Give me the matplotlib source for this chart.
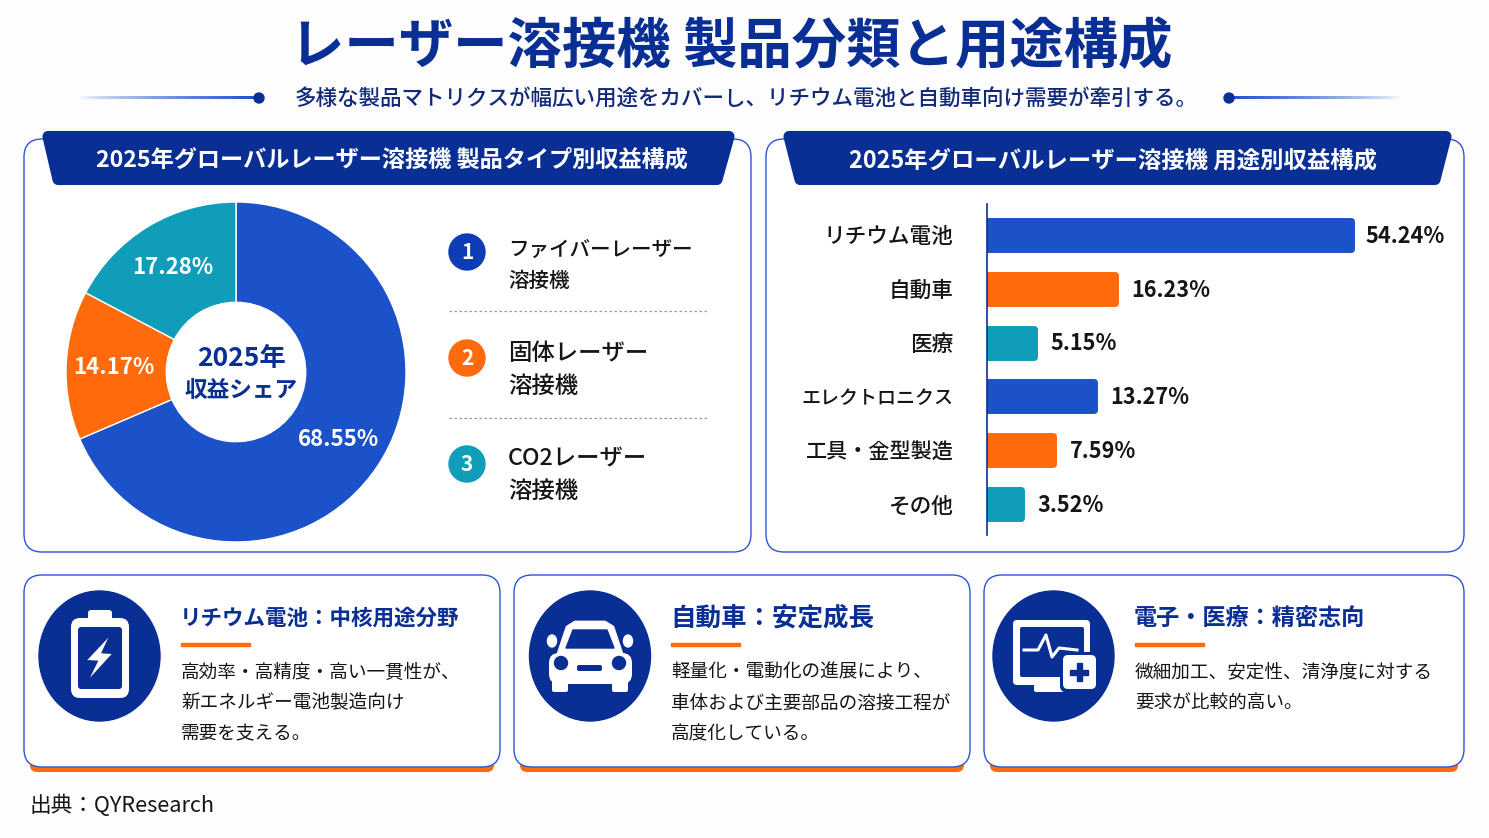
import numpy as np
import matplotlib
matplotlib.use('Agg')
import matplotlib.pyplot as plt
from matplotlib.colors import to_rgb
from matplotlib.patches import FancyBboxPatch, Circle, Polygon, Ellipse, Rectangle

plt.rcParams['font.family'] = ['Noto Sans CJK JP', 'DejaVu Sans']

title = 'レーザー溶接機 製品分類と用途構成'
subtitle = '多様な製品マトリクスが幅広い用途をカバーし、リチウム電池と自動車向け需要が牽引する。'
source = '出典：QYResearch'

# product type donut
pie_title = '2025年グローバルレーザー溶接機 製品タイプ別収益構成'
pie_names = ['ファイバーレーザー\n溶接機', '固体レーザー\n溶接機', 'CO2レーザー\n溶接機']
pie_values = [68.55, 14.17, 17.28]
pie_center = ['2025年', '収益シェア']

# application bars
bar_title = '2025年グローバルレーザー溶接機 用途別収益構成'
bar_names = ['リチウム電池', '自動車', '医療', 'エレクトロニクス', '工具・金型製造', 'その他']
bar_values = [54.24, 16.23, 5.15, 13.27, 7.59, 3.52]

card_titles = ['リチウム電池：中核用途分野', '自動車：安定成長', '電子・医療：精密志向']
card_lines = [
    ['高効率・高精度・高い一貫性が、', '新エネルギー電池製造向け', '需要を支える。'],
    ['軽量化・電動化の進展により、', '車体および主要部品の溶接工程が', '高度化している。'],
    ['微細加工、安定性、清浄度に対する', '要求が比較的高い。'],
]

NAVY = '#0A2F94'
BLUE = '#1B52C9'
ORANGE = '#FF6A0D'
TEAL = '#0F9DB9'
EDGE = '#2B55D8'
INK = '#151515'
W, H = 1489, 838


def axes_px(x0, y0, x1, y1):
    return fig.add_axes([x0 / W, 1 - y1 / H, (x1 - x0) / W, (y1 - y0) / H])


def rbox(x0, y0, x1, y1, r, **kw):
    p = FancyBboxPatch((x0, y0), x1 - x0, y1 - y0, boxstyle=f'round,pad=0,rounding_size={r}', **kw)
    bg.add_patch(p)
    return p


fig = plt.figure(figsize=(W / 100, H / 100), dpi=100, facecolor='#FDFDFE')

# everything that is not data goes on a pixel canvas
bg = fig.add_axes([0, 0, 1, 1])
bg.axis('off')

bg.text(731, 47, title, fontsize=39.2, fontweight='bold', color=NAVY, ha='center', va='center')
bg.text(746, 100, subtitle, fontsize=15.5, fontweight='medium', color='#12297A', ha='center', va='center')

# fading rules either side of the subtitle
fade = np.zeros((1, 256, 4))
fade[0, :, :3] = to_rgb(BLUE)
fade[0, :, 3] = np.linspace(0, 1, 256) ** 0.7
bg.imshow(fade, extent=(80, 258, 96.5, 99.5), aspect='auto', interpolation='bilinear')
bg.imshow(fade[:, ::-1], extent=(1229, 1400, 96.5, 99.5), aspect='auto', interpolation='bilinear')
bg.set_xlim(0, W)
bg.set_ylim(H, 0)
bg.add_patch(Circle((259, 98), 5, color=NAVY))
bg.add_patch(Circle((1229, 98), 5, color=NAVY))

# top panels
rbox(24, 139, 751, 552, 18, fc='white', ec=EDGE, lw=1)
rbox(766, 139, 1464, 552, 18, fc='white', ec=EDGE, lw=1)
bg.add_patch(Polygon([(48, 136.5), (729, 136.5), (717, 179.5), (58, 179.5)], fc=NAVY, ec=NAVY, lw=8, joinstyle='round'))
bg.add_patch(Polygon([(789, 136.5), (1446, 136.5), (1435, 179.5), (800, 179.5)], fc=NAVY, ec=NAVY, lw=8, joinstyle='round'))
bg.text(392, 160, pie_title, fontsize=16.7, fontweight='bold', color='white', ha='center', va='center')
bg.text(1113, 161, bar_title, fontsize=16.8, fontweight='bold', color='white', ha='center', va='center')

# donut
ax1 = axes_px(66, 202, 406, 542)
wedges, _, pct = ax1.pie(pie_values, colors=[BLUE, ORANGE, TEAL], startangle=90, counterclock=False, radius=1,
                         autopct='%.2f%%', pctdistance=0.72,
                         wedgeprops=dict(width=0.59, edgecolor='white', linewidth=1),
                         textprops=dict(color='white', fontsize=16, fontweight='bold'))
ax1.set_xlim(-1, 1)
ax1.set_ylim(-1, 1)
ax1.text(0.03, 0.08, pie_center[0], fontsize=19, fontweight='bold', color=NAVY, ha='center', va='center')
ax1.text(0.03, -0.11, pie_center[1], fontsize=16.3, fontweight='bold', color=NAVY, ha='center', va='center')

# donut key
key_colors = ['#0D3CB5', ORANGE, TEAL]
key_y = [265.5, 369.5, 475]
key_circle_y = [252, 358, 464]
key_sizes = [14.8, 16.8, 16.8]
for i in range(3):
    bg.add_patch(Circle((467, key_circle_y[i]), 18, color=key_colors[i]))
    bg.text(467, key_circle_y[i], str(i + 1), fontsize=15, fontweight='bold', color='white', ha='center', va='center')
    bg.text(508, key_y[i], pie_names[i], fontsize=key_sizes[i], fontweight='medium', color=INK, ha='left', va='center', linespacing=1.55)
for y in [311, 418]:
    bg.plot([449, 708], [y, y], color='#9A9A9A', lw=0.9, ls=(0, (2, 2)))

# bars, lengths in the reference follow a compressed scale so the axis is a power scale
ax2 = axes_px(987, 204, 1460, 535)
ax2.set_xscale('function', functions=(lambda v: np.power(np.maximum(v, 0), 0.87),
                                      lambda v: np.power(np.maximum(v, 0), 1 / 0.87)))
bar_pos = np.arange(len(bar_values))
bar_colors = [BLUE, ORANGE, TEAL, BLUE, ORANGE, TEAL]
bars = ax2.barh(bar_pos, bar_values, height=0.52, color=bar_colors, edgecolor=bar_colors, lw=5)
for b in bars:
    b.set_joinstyle('round')
ax2.set_xlim(0, 73.2)
ax2.set_ylim(5.576, -0.576)
ax2.set_yticks(bar_pos, bar_names, fontsize=15.6, fontweight='medium', color=INK)
ax2.set_xticks([])
ax2.minorticks_off()
ax2.tick_params(axis='y', length=0, pad=24)
ax2.tick_params(axis='x', which='both', length=0, labelbottom=False)
ax2.get_yticklabels()[3].set_fontsize(13.7)
ax2.get_yticklabels()[4].set_fontsize(15.2)
for s in ['top', 'right', 'bottom']:
    ax2.spines[s].set_visible(False)
ax2.spines['left'].set_color(NAVY)
ax2.spines['left'].set_linewidth(1.2)
ax2.patch.set_alpha(0)
for p, v in zip(bar_pos, bar_values):
    ax2.annotate(f'{v:.2f}%', (v, p), xytext=(12 if v < 50 else 10, -1), textcoords='offset points', fontsize=15.6,
                 fontweight='bold', color=INK, ha='left', va='center')

# bottom cards
card_x = [(24, 500), (514, 970), (984, 1464)]
circle_x = [99.5, 590, 1053.5]
text_x = [181, 671, 1135]
title_sizes = [15.5, 18.4, 16.7]
for i in range(3):
    x0, x1 = card_x[i]
    rbox(x0 + 6, 740, x1 - 6, 772, 7, fc=ORANGE, ec='none')
    rbox(x0, 575, x1, 767, 18, fc='white', ec=EDGE, lw=1)
    bg.add_patch(Ellipse((circle_x[i], 656), 121, 130, color=NAVY))
    bg.text(text_x[i] - 1, 618, card_titles[i], fontsize=title_sizes[i], fontweight='bold', color=NAVY, ha='left', va='center')
    bg.add_patch(Rectangle((text_x[i], 643), 69, 3, color=ORANGE))
    for j, line in enumerate(card_lines[i]):
        bg.text(text_x[i], 672.5 + j * 31, line, fontsize=13.4, color=INK, ha='left', va='center')

# battery icon
rbox(88, 610, 112, 625, 3, fc='white', ec='none')
rbox(71, 618, 129, 698, 9, fc='white', ec='none')
rbox(78, 627, 122, 689, 3, fc=NAVY, ec='none')
bolt = np.array([(325, 203), (262, 270), (295, 272), (270, 323), (335, 252), (303, 250)]) / 3 + [0, 570]
bg.add_patch(Polygon(bolt, fc='white', ec='none'))

# car icon
rbox(552, 665, 568, 692, 2, fc='white', ec='none')
rbox(612, 665, 628, 692, 2, fc='white', ec='none')
bg.add_patch(Polygon([(556, 660), (567, 627), (575, 622), (605, 622), (613, 627), (624, 660)], fc='white', ec='white', lw=2, joinstyle='round'))
rbox(549, 653, 632, 684, 10, fc='white', ec='none')
bg.add_patch(Ellipse((552, 641), 9, 12, color='white'))
bg.add_patch(Ellipse((628, 641), 9, 12, color='white'))
bg.add_patch(Polygon([(566, 648), (573, 630), (607, 630), (614, 648)], fc=NAVY, ec=NAVY, lw=1, joinstyle='round'))
bg.add_patch(Ellipse((561, 663), 13, 13, color=NAVY))
bg.add_patch(Ellipse((619, 663), 13, 13, color=NAVY))
rbox(577, 665, 602, 671, 2, fc=NAVY, ec='none')

# monitor icon
rbox(1013, 620, 1090, 685, 4, fc='white', ec='none')
rbox(1020, 627, 1084, 677, 2, fc=NAVY, ec='none')
rbox(1034, 684, 1064, 692, 2, fc='white', ec='none')
pulse_x = [1024, 1038, 1046, 1052, 1059, 1077]
pulse_y = [650, 650, 635, 657, 648, 650]
bg.plot(pulse_x, pulse_y, color='white', lw=2.2, solid_joinstyle='round')
rbox(1060, 652, 1099, 692, 6, fc=NAVY, ec='none')
rbox(1063, 655, 1096, 689, 5, fc='white', ec='none')
bg.add_patch(Rectangle((1070, 669.5), 18, 5, color=NAVY))
bg.add_patch(Rectangle((1076.5, 663), 5, 18, color=NAVY))

bg.text(30, 806, source, fontsize=15.6, color=INK, ha='left', va='center')

fig.savefig('out.png', dpi=100, facecolor=fig.get_facecolor())
